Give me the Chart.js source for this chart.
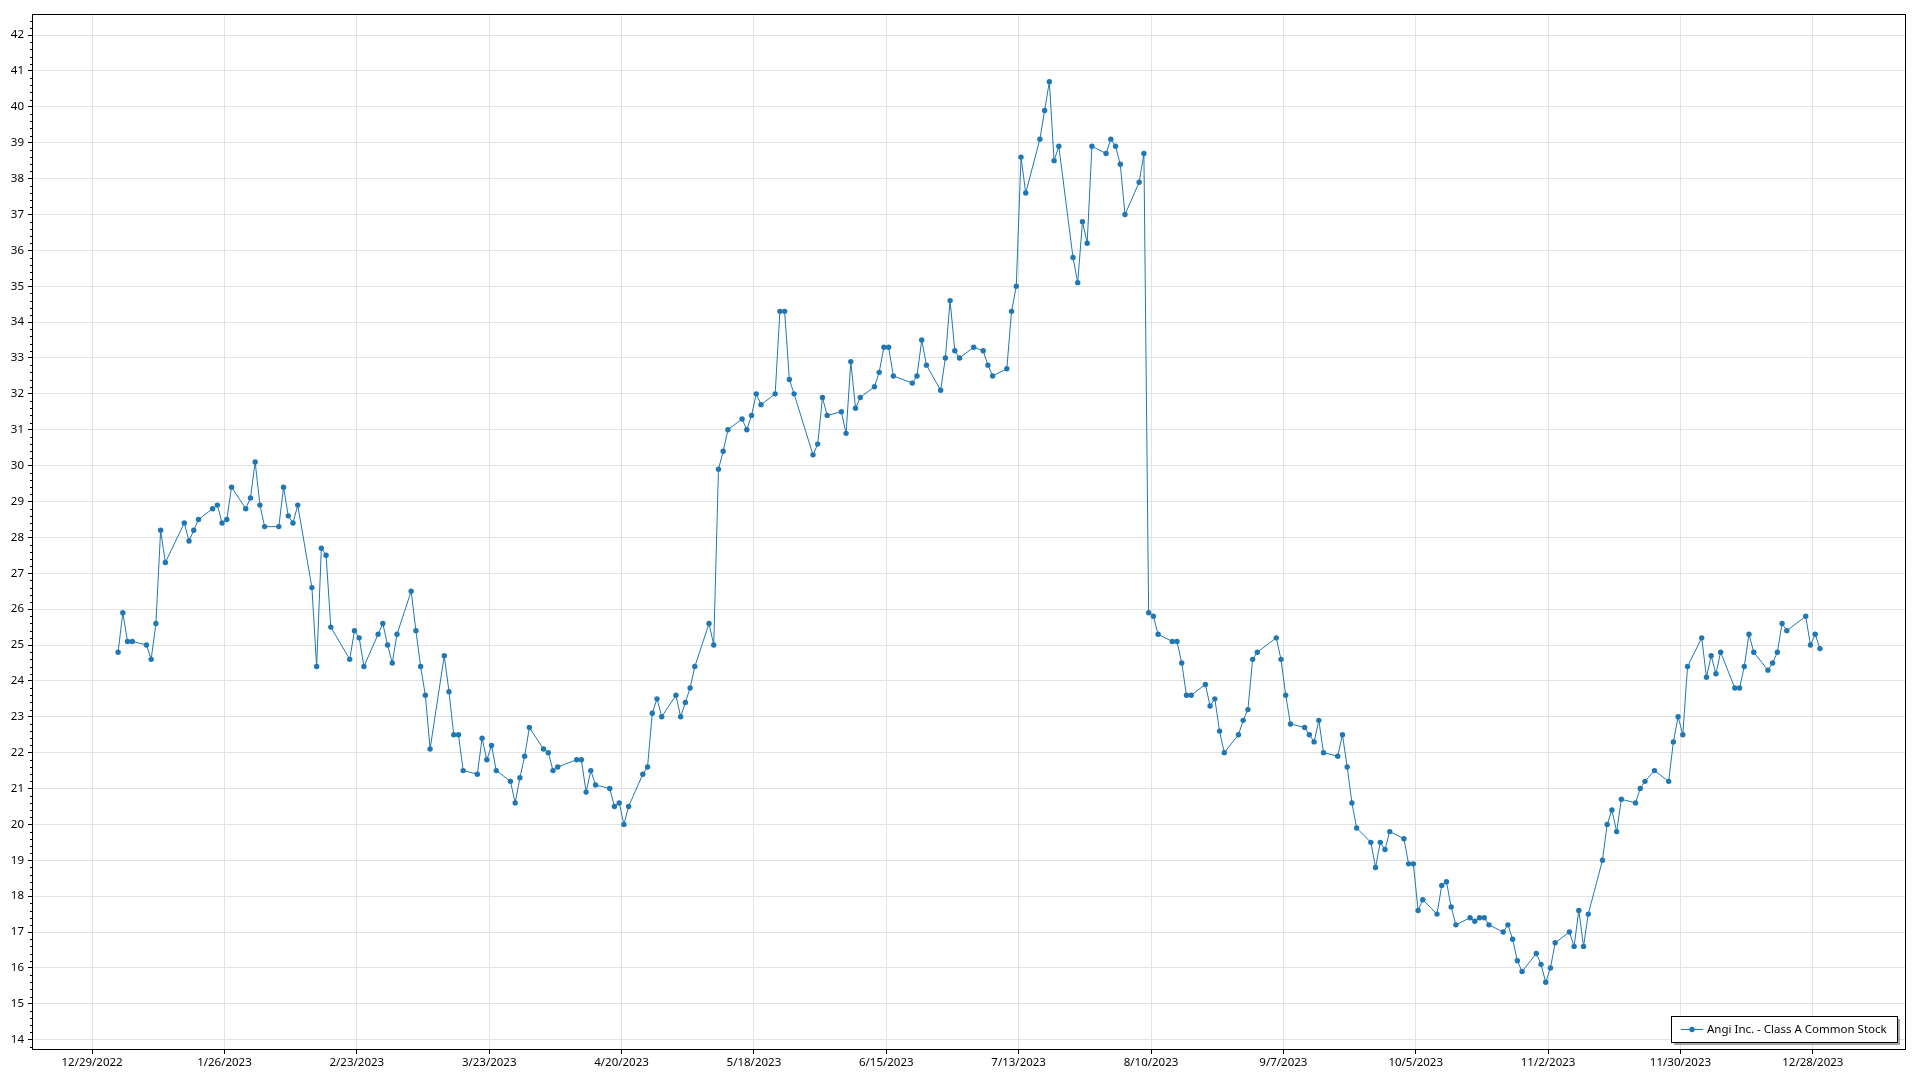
<!DOCTYPE html>
<html>
<head>
<meta charset="utf-8">
<title>Angi Inc. - Class A Common Stock</title>
<script src="https://cdn.jsdelivr.net/npm/chart.js@4.4.1/dist/chart.umd.min.js"></script>
<style>
  html, body { margin: 0; padding: 0; background: #fff; }
  #wrap { width: 1920px; height: 1080px; }
</style>
</head>
<body>
<div id="wrap"><canvas id="chart" width="1920" height="1080"></canvas></div>
<script>
const seriesLabel = 'Angi Inc. - Class A Common Stock';
const year = 2023;

// trading days of 2023 (M/D) and the close for each one
const tradeDates = [
  '1/3','1/4','1/5','1/6','1/9','1/10','1/11','1/12','1/13','1/17','1/18','1/19','1/20','1/23','1/24','1/25','1/26','1/27','1/30','1/31',
  '2/1','2/2','2/3','2/6','2/7','2/8','2/9','2/10','2/13','2/14','2/15','2/16','2/17','2/21','2/22','2/23','2/24','2/27','2/28',
  '3/1','3/2','3/3','3/6','3/7','3/8','3/9','3/10','3/13','3/14','3/15','3/16','3/17','3/20','3/21','3/22','3/23','3/24','3/27','3/28','3/29','3/30','3/31',
  '4/3','4/4','4/5','4/6','4/10','4/11','4/12','4/13','4/14','4/17','4/18','4/19','4/20','4/21','4/24','4/25','4/26','4/27','4/28',
  '5/1','5/2','5/3','5/4','5/5','5/8','5/9','5/10','5/11','5/12','5/15','5/16','5/17','5/18','5/19','5/22','5/23','5/24','5/25','5/26','5/30','5/31',
  '6/1','6/2','6/5','6/6','6/7','6/8','6/9','6/12','6/13','6/14','6/15','6/16','6/20','6/21','6/22','6/23','6/26','6/27','6/28','6/29','6/30',
  '7/3','7/5','7/6','7/7','7/10','7/11','7/12','7/13','7/14','7/17','7/18','7/19','7/20','7/21','7/24','7/25','7/26','7/27','7/28','7/31',
  '8/1','8/2','8/3','8/4','8/7','8/8','8/9','8/10','8/11','8/14','8/15','8/16','8/17','8/18','8/21','8/22','8/23','8/24','8/25','8/28','8/29','8/30','8/31',
  '9/1','9/5','9/6','9/7','9/8','9/11','9/12','9/13','9/14','9/15','9/18','9/19','9/20','9/21','9/22','9/25','9/26','9/27','9/28','9/29',
  '10/2','10/3','10/4','10/5','10/6','10/9','10/10','10/11','10/12','10/13','10/16','10/17','10/18','10/19','10/20','10/23','10/24','10/25','10/26','10/27','10/30','10/31',
  '11/1','11/2','11/3','11/6','11/7','11/8','11/9','11/10','11/13','11/14','11/15','11/16','11/17','11/20','11/21','11/22','11/24','11/27','11/28','11/29','11/30',
  '12/1','12/4','12/5','12/6','12/7','12/8','12/11','12/12','12/13','12/14','12/15','12/18','12/19','12/20','12/21','12/22','12/26','12/27','12/28','12/29'
];

const closePrices = [
  24.8, 25.9, 25.1, 25.1, 25.0, 24.6, 25.6, 28.2, 27.3, 28.4, 27.9, 28.2, 28.5, 28.8, 28.9, 28.4, 28.5, 29.4, 28.8, 29.1,
  30.1, 28.9, 28.3, 28.3, 29.4, 28.6, 28.4, 28.9, 26.6, 24.4, 27.7, 27.5, 25.5, 24.6, 25.4, 25.2, 24.4, 25.3, 25.6,
  25.0, 24.5, 25.3, 26.5, 25.4, 24.4, 23.6, 22.1, 24.7, 23.7, 22.5, 22.5, 21.5, 21.4, 22.4, 21.8, 22.2, 21.5, 21.2, 20.6, 21.3, 21.9, 22.7,
  22.1, 22.0, 21.5, 21.6, 21.8, 21.8, 20.9, 21.5, 21.1, 21.0, 20.5, 20.6, 20.0, 20.5, 21.4, 21.6, 23.1, 23.5, 23.0,
  23.6, 23.0, 23.4, 23.8, 24.4, 25.6, 25.0, 29.9, 30.4, 31.0, 31.3, 31.0, 31.4, 32.0, 31.7, 32.0, 34.3, 34.3, 32.4, 32.0, 30.3, 30.6,
  31.9, 31.4, 31.5, 30.9, 32.9, 31.6, 31.9, 32.2, 32.6, 33.3, 33.3, 32.5, 32.3, 32.5, 33.5, 32.8, 32.1, 33.0, 34.6, 33.2, 33.0,
  33.3, 33.2, 32.8, 32.5, 32.7, 34.3, 35.0, 38.6, 37.6, 39.1, 39.9, 40.7, 38.5, 38.9, 35.8, 35.1, 36.8, 36.2, 38.9, 38.7,
  39.1, 38.9, 38.4, 37.0, 37.9, 38.7, 25.9, 25.8, 25.3, 25.1, 25.1, 24.5, 23.6, 23.6, 23.9, 23.3, 23.5, 22.6, 22.0, 22.5, 22.9, 23.2, 24.6,
  24.8, 25.2, 24.6, 23.6, 22.8, 22.7, 22.5, 22.3, 22.9, 22.0, 21.9, 22.5, 21.6, 20.6, 19.9, 19.5, 18.8, 19.5, 19.3, 19.8,
  19.6, 18.9, 18.9, 17.6, 17.9, 17.5, 18.3, 18.4, 17.7, 17.2, 17.4, 17.3, 17.4, 17.4, 17.2, 17.0, 17.2, 16.8, 16.2, 15.9, 16.4, 16.1,
  15.6, 16.0, 16.7, 17.0, 16.6, 17.6, 16.6, 17.5, 19.0, 20.0, 20.4, 19.8, 20.7, 20.6, 21.0, 21.2, 21.5, 21.2, 22.3, 23.0, 22.5,
  24.4, 25.2, 24.1, 24.7, 24.2, 24.8, 23.8, 23.8, 24.4, 25.3, 24.8, 24.3, 24.5, 24.8, 25.6, 25.4, 25.8, 25.0, 25.3, 24.9
];

const xTickLabels = [
  '12/29/2022', '1/26/2023', '2/23/2023', '3/23/2023', '4/20/2023', '5/18/2023', '6/15/2023',
  '7/13/2023', '8/10/2023', '9/7/2023', '10/5/2023', '11/2/2023', '11/30/2023', '12/28/2023'
];

const yMin = 13.74;
const yMax = 42.56;
const yMinorStep = 0.2;

const lineColor = '#1f77b4';
const gridColor = '#e2e2e2';
const fontFamily = "'Segoe UI', 'Noto Sans', 'Open Sans', sans-serif";
const fontSize = 11.5;

// days since epoch, quotes are stamped at noon
const dayNumber = (s) => {
  const [m, d, y] = s.split('/').map(Number);
  return Date.UTC(y, m - 1, d) / 86400000;
};
const points = tradeDates.map((d, i) => ({ x: dayNumber(d + '/' + year) + 0.5, y: closePrices[i] }));
const xTickValues = xTickLabels.map(dayNumber);
const span = points[points.length - 1].x - points[0].x;
const xMin = points[0].x - span * 0.05;
const xMax = points[points.length - 1].x + span * 0.05;

// black frame round the plot area
const framePlugin = {
  id: 'frame',
  afterDraw(chart) {
    const { ctx, chartArea: a } = chart;
    ctx.save();
    ctx.strokeStyle = '#000';
    ctx.lineWidth = 1;
    ctx.strokeRect(Math.round(a.left) - 0.5, Math.round(a.top) - 0.5,
      Math.round(a.right - a.left) + 1, Math.round(a.bottom - a.top) + 1);
    ctx.restore();
  }
};

// small ticks between the whole numbers on the value axis
const minorTickPlugin = {
  id: 'minorTicks',
  afterDraw(chart) {
    const { ctx, chartArea: a, scales: { y } } = chart;
    ctx.save();
    ctx.strokeStyle = '#000';
    ctx.lineWidth = 1;
    ctx.beginPath();
    for (let v = Math.ceil(yMin / yMinorStep) * yMinorStep; v <= yMax; v += yMinorStep) {
      const r = Math.round(v * 10) / 10;
      if (Math.abs(r - Math.round(r)) < 1e-6) continue;
      const py = Math.round(y.getPixelForValue(r)) + 0.5;
      ctx.moveTo(a.left - 3, py);
      ctx.lineTo(a.left, py);
    }
    ctx.stroke();
    ctx.restore();
  }
};

// legend box in the lower right corner of the plot
const boxLegendPlugin = {
  id: 'boxLegend',
  afterDraw(chart) {
    const { ctx, chartArea: a } = chart;
    const ds = chart.data.datasets[0];
    ctx.save();
    ctx.font = fontSize + 'px ' + fontFamily;
    const tw = ctx.measureText(ds.label).width;
    const w = Math.round(10 + 22 + 4 + tw + 10);
    const h = 26;
    const right = Math.round(a.right) - 8;
    const bottom = Math.round(a.bottom) - 7;
    const left = right - w;
    const top = bottom - h;
    ctx.fillStyle = 'rgba(0,0,0,0.35)';
    ctx.fillRect(left + 3, top + 3, w, h);
    ctx.fillStyle = '#fff';
    ctx.fillRect(left, top, w, h);
    ctx.strokeStyle = '#000';
    ctx.lineWidth = 1;
    ctx.strokeRect(left + 0.5, top + 0.5, w, h);
    const cy = top + h / 2 + 0.5;
    ctx.strokeStyle = ds.borderColor;
    ctx.beginPath();
    ctx.moveTo(left + 10, cy);
    ctx.lineTo(left + 32, cy);
    ctx.stroke();
    ctx.fillStyle = ds.borderColor;
    ctx.beginPath();
    ctx.arc(left + 21, cy, 2.7, 0, Math.PI * 2);
    ctx.fill();
    ctx.fillStyle = '#000';
    ctx.textBaseline = 'middle';
    ctx.fillText(ds.label, left + 36, cy);
    ctx.restore();
  }
};

const ctx = document.getElementById('chart').getContext('2d');
new Chart(ctx, {
  type: 'line',
  data: {
    datasets: [{
      label: seriesLabel,
      data: points,
      borderColor: lineColor,
      backgroundColor: lineColor,
      borderWidth: 1,
      pointRadius: 2.7,
      pointBorderWidth: 0,
      pointHoverRadius: 0,
      tension: 0,
      fill: false
    }]
  },
  options: {
    responsive: false,
    animation: false,
    layout: { padding: { top: 15, right: 15, left: 0, bottom: 0 } },
    plugins: {
      legend: { display: false },
      tooltip: { enabled: false }
    },
    scales: {
      x: {
        type: 'linear',
        min: xMin,
        max: xMax,
        afterBuildTicks: (scale) => {
          scale.ticks = xTickValues.map((v) => ({ value: v }));
        },
        afterFit: (scale) => { scale.height = 31; },
        ticks: {
          autoSkip: false,
          maxRotation: 0,
          padding: 2,
          color: '#000',
          font: { family: fontFamily, size: fontSize },
          callback: (value, index) => xTickLabels[index]
        },
        grid: { color: gridColor, tickColor: '#000', tickLength: 5 },
        border: { display: false }
      },
      y: {
        min: yMin,
        max: yMax,
        afterFit: (scale) => { scale.width = 33; },
        ticks: {
          stepSize: 1,
          includeBounds: false,
          padding: 4,
          color: '#000',
          font: { family: fontFamily, size: fontSize }
        },
        grid: { color: gridColor, tickColor: '#000', tickLength: 5 },
        border: { display: false }
      }
    }
  },
  plugins: [framePlugin, minorTickPlugin, boxLegendPlugin]
});
</script>
</body>
</html>
